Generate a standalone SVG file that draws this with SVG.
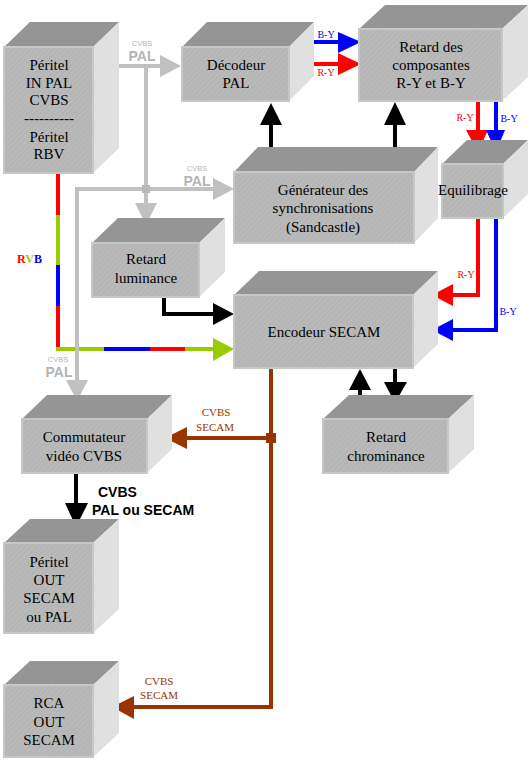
<svg xmlns="http://www.w3.org/2000/svg" width="531" height="761" viewBox="0 0 531 761">
<defs>
<pattern id="hatch" width="4" height="4" patternUnits="userSpaceOnUse" patternTransform="rotate(45)">
<rect width="4" height="4" fill="#b9b9b9"/>
<line x1="0" y1="0" x2="0" y2="4" stroke="#b0b0b0" stroke-width="1.5"/>
</pattern>
</defs>
<style>
.front{fill:url(#hatch);stroke:#c3cac3;stroke-width:2}
.top{fill:#959595}
.side{fill:#e0e0e0}
.bt{font-family:"Liberation Serif",serif;font-size:15px;fill:#000;text-anchor:middle}
.ln{fill:none;stroke-width:4;stroke-linejoin:miter}
.gray{stroke:#c0c0c0}
.grayf{fill:#c0c0c0}
.blk{stroke:#000}
.blkf{fill:#000}
.red{stroke:#ff0000}
.redf{fill:#ff0000}
.blu{stroke:#0000ff}
.bluf{fill:#0000ff}
.grn{stroke:#99cc00}
.grnf{fill:#99cc00}
.brn{stroke:#993300}
.brnf{fill:#993300}
.sm{font-family:"Liberation Serif",serif;font-size:10px;text-anchor:middle}
.br{font-family:"Liberation Serif",serif;font-size:11px;fill:#993300;text-anchor:middle}
.gs{font-family:"Liberation Sans",sans-serif;font-size:7.5px;fill:#b4b4b4;text-anchor:middle}
.gb{font-family:"Liberation Sans",sans-serif;font-size:14px;font-weight:bold;fill:#b4b4b4;text-anchor:middle}
.kb{font-family:"Liberation Sans",sans-serif;font-size:14px;font-weight:bold;fill:#000}
</style>
<rect width="531" height="761" fill="#fff"/>

<g id="connectors">
<!-- RVB -->
<line class="ln red" x1="58" y1="173" x2="58" y2="215"/>
<line class="ln grn" x1="58" y1="215" x2="58" y2="265"/>
<line class="ln blu" x1="58" y1="265" x2="58" y2="306"/>
<line class="ln red" x1="58" y1="306" x2="58" y2="351"/>
<line class="ln grn" x1="56" y1="349" x2="104" y2="349"/>
<line class="ln blu" x1="104" y1="349" x2="150" y2="349"/>
<line class="ln red" x1="150" y1="349" x2="185" y2="349"/>
<line class="ln grn" x1="185" y1="349" x2="214" y2="349"/>
<polygon class="grnf" points="213,338 234,349 213,361"/>
<!-- gray CVBS PAL -->
<line class="ln gray" x1="111" y1="66" x2="161" y2="66"/>
<polygon class="grayf" points="160,55 181,66 160,77"/>
<line class="ln gray" x1="146" y1="66" x2="146" y2="205"/>
<polygon class="grayf" points="135,203 157,203 146,225"/>
<polyline class="ln gray" points="214,189 77,189 77,381"/>
<polygon class="grayf" points="213,178 234,189 213,200"/>
<polygon class="grayf" points="66,380 88,380 77,401"/>
<rect x="142" y="185" width="8" height="8" fill="#b8b8b8"/>
<!-- black -->
<polyline class="ln blk" points="164,297 164,314 214,314"/>
<polygon class="blkf" points="213,303 234,314 213,325"/>
<line class="ln blk" x1="271" y1="153" x2="271" y2="124"/>
<polygon class="blkf" points="260,125 282,125 271,103"/>
<line class="ln blk" x1="395" y1="153" x2="395" y2="124"/>
<polygon class="blkf" points="384,125 406,125 395,102"/>
<line class="ln blk" x1="360" y1="402" x2="360" y2="389"/>
<polygon class="blkf" points="349,390 371,390 360,369"/>
<line class="ln blk" x1="395" y1="368" x2="395" y2="383"/>
<polygon class="blkf" points="384,382 407,382 395,403"/>
<line class="ln blk" x1="76" y1="473" x2="76" y2="504"/>
<polygon class="blkf" points="65,503 88,503 76,527"/>
<!-- B-Y / R-Y top -->
<line class="ln blu" x1="306" y1="42" x2="339" y2="42"/>
<polygon class="bluf" points="338,32 361,42 338,53"/>
<line class="ln red" x1="306" y1="64" x2="339" y2="64"/>
<polygon class="redf" points="338,53 361,64 338,75"/>
<!-- down to Equilibrage -->
<line class="ln red" x1="478" y1="101" x2="478" y2="131"/>
<polygon class="redf" points="466,130 488,130 478,152"/>
<line class="ln blu" x1="496" y1="101" x2="496" y2="131"/>
<polygon class="bluf" points="486,130 505,130 496,152"/>
<!-- from Equilibrage to Encodeur -->
<polyline class="ln red" points="478,218 478,295 452,295"/>
<polygon class="redf" points="453,284 432,295 453,306"/>
<polyline class="ln blu" points="496,218 496,330 452,330"/>
<polygon class="bluf" points="453,319 432,330 453,341"/>
<!-- brown -->
<polyline class="ln brn" points="271,368 271,707 133,707"/>
<polygon class="brnf" points="134,696 112,707 134,719"/>
<line class="ln brn" x1="271" y1="438" x2="186" y2="438"/>
<polygon class="brnf" points="187,427 165,438 187,449"/>
<rect x="266" y="433" width="10" height="10" fill="#993300"/>

<!-- labels -->
<text class="gs" x="142" y="46">CVBS</text>
<text class="gb" x="142" y="61">PAL</text>
<text class="gs" x="197" y="171">CVBS</text>
<text class="gb" x="197" y="186">PAL</text>
<text class="gs" x="58" y="362">CVBS</text>
<text class="gb" x="59" y="377">PAL</text>
<text x="17" y="263" font-family="Liberation Serif, serif" font-size="12" font-weight="bold"><tspan fill="#ff0000">R</tspan><tspan fill="#99cc00">V</tspan><tspan fill="#0000ff">B</tspan></text>
<text class="sm" x="326" y="38" fill="#0000ff">B-Y</text>
<text class="sm" x="326" y="76" fill="#ff0000">R-Y</text>
<text class="sm" x="465" y="121" fill="#ff0000">R-Y</text>
<text class="sm" x="509" y="122" fill="#0000ff">B-Y</text>
<text class="sm" x="466" y="278" fill="#ff0000">R-Y</text>
<text class="sm" x="508" y="315" fill="#0000ff">B-Y</text>
<text class="br" x="216" y="416">CVBS</text>
<text class="br" x="215" y="431">SECAM</text>
<text class="br" x="159" y="685">CVBS</text>
<text class="br" x="159" y="699">SECAM</text>
<text class="kb" x="98" y="497">CVBS</text>
<text class="kb" x="92" y="515">PAL ou SECAM</text>
</g>

<g id="peritel-in">
<polygon class="top" points="4,47 30,22 119,22 93,47"/>
<polygon class="side" points="93,47 119,22 119,148 93,173"/>
<rect class="front" x="4" y="47" width="89" height="126"/>
<text class="bt" x="49" y="70">Péritel</text>
<text class="bt" x="49" y="88">IN PAL</text>
<text class="bt" x="49" y="105">CVBS</text>
<text class="bt" x="49" y="123">----------</text>
<text class="bt" x="49" y="142">Péritel</text>
<text class="bt" x="49" y="159">RBV</text>
</g>

<g id="decodeur">
<polygon class="top" points="182,47 207,22 314,22 289,47"/>
<polygon class="side" points="289,47 314,22 314,76 289,101"/>
<rect class="front" x="182" y="47" width="107" height="54"/>
<text class="bt" x="236" y="70">Décodeur</text>
<text class="bt" x="236" y="88">PAL</text>
</g>

<g id="retard-composantes">
<polygon class="top" points="359,29 385,5 528,5 502,29"/>
<polygon class="side" points="502,29 528,5 528,77 502,101"/>
<rect class="front" x="359" y="29" width="143" height="72"/>
<text class="bt" x="431" y="52">Retard des</text>
<text class="bt" x="431" y="70">composantes</text>
<text class="bt" x="431" y="88">R-Y et B-Y</text>
</g>

<g id="equilibrage">
<polygon class="top" points="442,164 467,140 528,140 503,164"/>
<polygon class="side" points="503,164 528,140 528,194 503,218"/>
<rect class="front" x="442" y="164" width="61" height="54"/>
<text class="bt" x="473" y="195" font-size="12.5">Equilibrage</text>
</g>

<g id="generateur">
<polygon class="top" points="234,172 258,147 438,147 414,172"/>
<polygon class="side" points="414,172 438,147 438,218 414,243"/>
<rect class="front" x="234" y="172" width="180" height="71"/>
<text class="bt" x="323" y="195">Générateur des</text>
<text class="bt" x="323" y="213">synchronisations</text>
<text class="bt" x="323" y="232">(Sandcastle)</text>
</g>

<g id="retard-luminance">
<polygon class="top" points="92,243 118,218 225,218 199,243"/>
<polygon class="side" points="199,243 225,218 225,272 199,297"/>
<rect class="front" x="92" y="243" width="107" height="54"/>
<text class="bt" x="146" y="264">Retard</text>
<text class="bt" x="146" y="283">luminance</text>
</g>

<g id="encodeur">
<polygon class="top" points="234,295 259,271 438,271 413,295"/>
<polygon class="side" points="413,295 438,271 438,344 413,368"/>
<rect class="front" x="234" y="295" width="179" height="73"/>
<text class="bt" x="324" y="337">Encodeur SECAM</text>
</g>

<g id="retard-chrominance">
<polygon class="top" points="323,419 349,395 474,395 448,419"/>
<polygon class="side" points="448,419 474,395 474,449 448,473"/>
<rect class="front" x="323" y="419" width="125" height="54"/>
<text class="bt" x="386" y="442">Retard</text>
<text class="bt" x="386" y="461">chrominance</text>
</g>

<g id="commutateur">
<polygon class="top" points="22,419 47,395 172,395 147,419"/>
<polygon class="side" points="147,419 172,395 172,449 147,473"/>
<rect class="front" x="22" y="419" width="125" height="54"/>
<text class="bt" x="84" y="442">Commutateur</text>
<text class="bt" x="84" y="461">vidéo CVBS</text>
</g>

<g id="peritel-out">
<polygon class="top" points="4,543 30,519 119,519 93,543"/>
<polygon class="side" points="93,543 119,519 119,609 93,633"/>
<rect class="front" x="4" y="543" width="89" height="90"/>
<text class="bt" x="49" y="567">Péritel</text>
<text class="bt" x="49" y="585">OUT</text>
<text class="bt" x="49" y="603">SECAM</text>
<text class="bt" x="49" y="622">ou PAL</text>
</g>

<g id="rca-out">
<polygon class="top" points="4,685 30,661 119,661 93,685"/>
<polygon class="side" points="93,685 119,661 119,733 93,757"/>
<rect class="front" x="4" y="685" width="89" height="72"/>
<text class="bt" x="49" y="708">RCA</text>
<text class="bt" x="49" y="727">OUT</text>
<text class="bt" x="49" y="745">SECAM</text>
</g>
</svg>
